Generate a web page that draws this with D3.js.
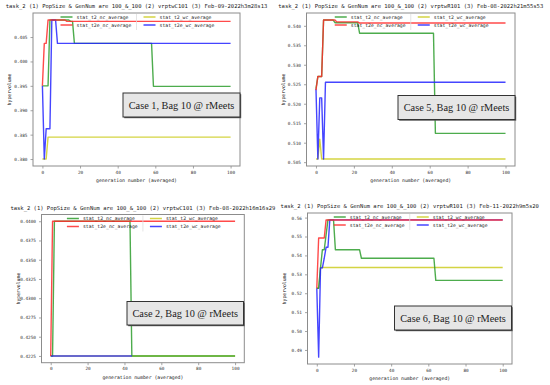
<!DOCTYPE html>
<html>
<head>
<meta charset="utf-8">
<script src="https://cdn.jsdelivr.net/npm/d3@7/dist/d3.min.js"></script>
<style>
  html, body { margin: 0; padding: 0; background: #fff; }
  svg { display: block; }
  .mono { font-family: "DejaVu Sans Mono", "Liberation Mono", monospace; fill: #222; }
  .tick text { font-family: "DejaVu Sans Mono", "Liberation Mono", monospace; font-size: 4.4px; fill: #333; }
  .tick line { stroke: #666; stroke-width: 0.6; }
  .case { font-family: "Liberation Serif", "DejaVu Serif", serif; font-size: 10.3px; fill: #222; }
</style>
</head>
<body>
<svg id="chart" width="550" height="385"></svg>
<script>
// ---- data (generation, hypervolume) ----
const xTicks = [0, 20, 40, 60, 80, 100];
const seriesNames = ['stat_t2_nc_average', 'stat_t2e_nc_average', 'stat_t2_wc_average', 'stat_t2e_wc_average'];

const titles = [
  'task_2 (1) PopSize & GenNum are 100_&_100 (2) vrptwC101 (3) Feb-09-2022h3m28s13',
  'task_2 (1) PopSize & GenNum are 100_&_100 (2) vrptwR101 (3) Feb-08-2022h21m55s53',
  'task_2 (1) PopSize & GenNum are 100_&_100 (2) vrptwC101 (3) Feb-08-2022h16m16s29',
  'task_2 (1) PopSize & GenNum are 100_&_100 (2) vrptwR101 (3) Feb-11-2022h9m5s20'
];
const caseLabels = ['Case 1, Bag 10 @ rMeets', 'Case 5, Bag 10 @ rMeets', 'Case 2, Bag 10 @ rMeets', 'Case 6, Bag 10 @ rMeets'];

const yTicksC1 = [0.380, 0.385, 0.390, 0.395, 0.400, 0.405];
const yTicksC5 = [0.505, 0.510, 0.515, 0.520, 0.525, 0.530, 0.535, 0.540];
const yTicksC2 = [0.4225, 0.4250, 0.4275, 0.4300, 0.4325, 0.4350, 0.4375, 0.4400];
const yTicksC6 = [0.49, 0.50, 0.51, 0.52, 0.53, 0.54, 0.55, 0.56];

// case 1 (C101, Feb-09)
const c1_t2_nc  = [[0, 0.3950], [3, 0.3950], [4, 0.4085], [14, 0.4085], [15, 0.4082], [16, 0.4082], [17, 0.4037], [58, 0.4037], [59, 0.3949], [100, 0.3949]];
const c1_t2_wc  = [[0, 0.3800], [2, 0.3800], [3, 0.3845], [100, 0.3845]];
const c1_t2e_nc = [[0, 0.3950], [1, 0.4037], [2, 0.4037], [3, 0.4085], [12, 0.4085], [13, 0.4082], [100, 0.4082]];
const c1_t2e_wc = [[0, 0.3950], [1, 0.3800], [2, 0.3862], [4, 0.3862], [5, 0.4085], [7, 0.4085], [8, 0.4037], [100, 0.4037]];

// case 5 (R101, Feb-08)
const c5_t2_nc  = [[0, 0.5238], [1, 0.5270], [3, 0.5270], [4, 0.5415], [9, 0.5415], [10, 0.5408], [22, 0.5408], [23, 0.5381], [62, 0.5381], [63, 0.5124], [100, 0.5124]];
const c5_t2_wc  = [[0, 0.5058], [1, 0.5058], [2, 0.5109], [3, 0.5058], [100, 0.5058]];
const c5_t2e_nc = [[0, 0.5235], [1, 0.5270], [3, 0.5270], [4, 0.5415], [10, 0.5415], [11, 0.5410], [22, 0.5410], [23, 0.5407], [100, 0.5407]];
const c5_t2e_wc = [[0, 0.5238], [1, 0.5058], [2, 0.5215], [3, 0.5215], [4, 0.5058], [5, 0.5255], [100, 0.5255]];

// case 2 (C101, Feb-08)
const c2_t2_nc  = [[0, 0.4225], [1, 0.4225], [2, 0.4400], [43, 0.4400], [44, 0.4225], [100, 0.4225]];
const c2_t2_wc  = [[0, 0.4225], [100, 0.4225]];
const c2_t2e_nc = [[0, 0.4225], [1, 0.4400], [100, 0.4400]];
const c2_t2e_wc = [[0, 0.4225], [44, 0.4225]];

// case 6 (R101, Feb-11)
const c6_t2_nc  = [[0, 0.5226], [1, 0.5226], [2, 0.5334], [3, 0.5430], [4, 0.5430], [6, 0.5588], [9, 0.5588], [10, 0.5430], [23, 0.5430], [24, 0.5385], [63, 0.5385], [64, 0.5268], [100, 0.5268]];
const c6_t2_wc  = [[0, 0.5226], [1, 0.5226], [2, 0.5336], [100, 0.5336]];
const c6_t2e_nc = [[0, 0.5226], [1, 0.5492], [4, 0.5492], [5, 0.5588], [100, 0.5587]];
const c6_t2e_wc = [[0, 0.5226], [1, 0.4862], [2, 0.5334], [3, 0.5334], [4, 0.5385], [5, 0.5443], [6, 0.5443], [7, 0.5588], [100, 0.5588]];

// ---- layout ----
const colors = { t2_nc: '#2e9e2e', t2e_nc: '#ff2a2a', t2_wc: '#cccc22', t2e_wc: '#2424ff' };
const drawOrder = ['t2_wc', 't2_nc', 't2e_wc', 't2e_nc'];

const panels = [
  { title: titles[0], label: caseLabels[0], yTicks: yTicksC1, fmt: '.3f',
    series: { t2_nc: c1_t2_nc, t2_wc: c1_t2_wc, t2e_nc: c1_t2e_nc, t2e_wc: c1_t2e_wc },
    area: { l: 33, r: 240, t: 13, b: 166 }, box: { x: 123, y: 93, w: 117, h: 24 } },
  { title: titles[1], label: caseLabels[1], yTicks: yTicksC5, fmt: '.3f',
    series: { t2_nc: c5_t2_nc, t2_wc: c5_t2_wc, t2e_nc: c5_t2e_nc, t2e_wc: c5_t2e_wc },
    area: { l: 306.5, r: 515, t: 13, b: 166 }, box: { x: 398, y: 95.5, w: 117, h: 24 } },
  { title: titles[2], label: caseLabels[2], yTicks: yTicksC2, fmt: '.4f',
    series: { t2_nc: c2_t2_nc, t2_wc: c2_t2_wc, t2e_nc: c2_t2e_nc, t2e_wc: c2_t2e_wc },
    area: { l: 41.5, r: 244.3, t: 214.5, b: 362.7 }, box: { x: 127, y: 301.5, w: 116.5, h: 23.5 } },
  { title: titles[3], label: caseLabels[3], yTicks: yTicksC6, fmt: '.2f',
    series: { t2_nc: c6_t2_nc, t2_wc: c6_t2_wc, t2e_nc: c6_t2e_nc, t2e_wc: c6_t2e_wc },
    area: { l: 307.5, r: 512, t: 213, b: 364 }, box: { x: 394.5, y: 306, w: 117, h: 24 } }
];

const svg = d3.select('#chart');
svg.append('rect').attr('width', 550).attr('height', 385).attr('fill', '#fff');

panels.forEach(p => {
  const a = p.area;
  const all = Object.values(p.series).flat().map(d => d[1]);
  const lo = d3.min(all), hi = d3.max(all), pad = (hi - lo) * 0.05;
  const x = d3.scaleLinear().domain([-5, 105]).range([a.l, a.r]);
  const y = d3.scaleLinear().domain([lo - pad, hi + pad]).range([a.b, a.t]);
  const g = svg.append('g');
  const cx = (a.l + a.r) / 2;

  // title
  g.append('text').attr('class', 'mono').attr('x', cx).attr('y', a.t - 5)
    .attr('text-anchor', 'middle').attr('font-size', 5.5)
    .text(p.title);

  // axes
  const ya = g.append('g').attr('transform', `translate(${a.l},0)`)
    .call(d3.axisLeft(y).tickValues(p.yTicks).tickFormat(d3.format(p.fmt)).tickSize(2.5).tickPadding(3));
  ya.select('.domain').remove();
  const xa = g.append('g').attr('transform', `translate(0,${a.b})`)
    .call(d3.axisBottom(x).tickValues(xTicks).tickSize(2.5).tickPadding(2));
  xa.select('.domain').remove();

  g.append('text').attr('class', 'mono').attr('font-size', 4.8)
    .attr('x', cx).attr('y', a.b + 16).attr('text-anchor', 'middle')
    .text('generation number (averaged)');
  g.append('text').attr('class', 'mono').attr('font-size', 4.8)
    .attr('transform', `translate(${a.l - 22},${(a.t + a.b) / 2}) rotate(-90)`)
    .attr('text-anchor', 'middle').text('hypervolume');

  // lines
  const line = d3.line().x(d => x(d[0])).y(d => y(d[1]));
  const clip = 'clip' + Math.round(a.l) + Math.round(a.t);
  svg.append('clipPath').attr('id', clip).append('rect')
    .attr('x', a.l).attr('y', a.t).attr('width', a.r - a.l).attr('height', a.b - a.t);
  const lg = g.append('g').attr('clip-path', `url(#${clip})`);
  drawOrder.forEach(k => {
    lg.append('path').datum(p.series[k]).attr('d', line)
      .attr('fill', 'none').attr('stroke', colors[k]).attr('stroke-width', 1.4)
      .attr('stroke-opacity', 0.85).attr('stroke-linejoin', 'round');
  });

  // frame
  g.append('rect').attr('x', a.l).attr('y', a.t).attr('width', a.r - a.l).attr('height', a.b - a.t)
    .attr('fill', 'none').attr('stroke', '#8c8c8c').attr('stroke-width', 1);

  // legend, two columns centred on the top of the plot
  const legendCols = [[seriesNames[0], 't2_nc'], [seriesNames[1], 't2e_nc'], [seriesNames[2], 't2_wc'], [seriesNames[3], 't2e_wc']];
  g.append('line').attr('x1', cx).attr('x2', cx).attr('y1', a.t + 1).attr('y2', a.t + 17)
    .attr('stroke', '#ddd').attr('stroke-width', 0.8);
  legendCols.forEach(([name, k], i) => {
    const lx = i < 2 ? cx - 76 : cx + 7;
    const ly = a.t + 4 + (i % 2) * 8;
    g.append('line').attr('x1', lx).attr('x2', lx + 12).attr('y1', ly).attr('y2', ly)
      .attr('stroke', colors[k]).attr('stroke-width', 1.5).attr('stroke-opacity', 0.85);
    g.append('text').attr('class', 'mono').attr('font-size', 4.8)
      .attr('x', lx + 16).attr('y', ly + 1.6).text(name);
  });

  // case annotation box
  const b = p.box;
  g.append('rect').attr('x', b.x + 1.2).attr('y', b.y + 1.2).attr('width', b.w).attr('height', b.h).attr('fill', '#555');
  g.append('rect').attr('x', b.x).attr('y', b.y).attr('width', b.w).attr('height', b.h)
    .attr('fill', '#e6e6e6').attr('stroke', '#333').attr('stroke-width', 1);
  g.append('text').attr('class', 'case').attr('x', b.x + b.w / 2).attr('y', b.y + b.h / 2 + 3.6)
    .attr('text-anchor', 'middle').text(p.label);
});
</script>
</body>
</html>
